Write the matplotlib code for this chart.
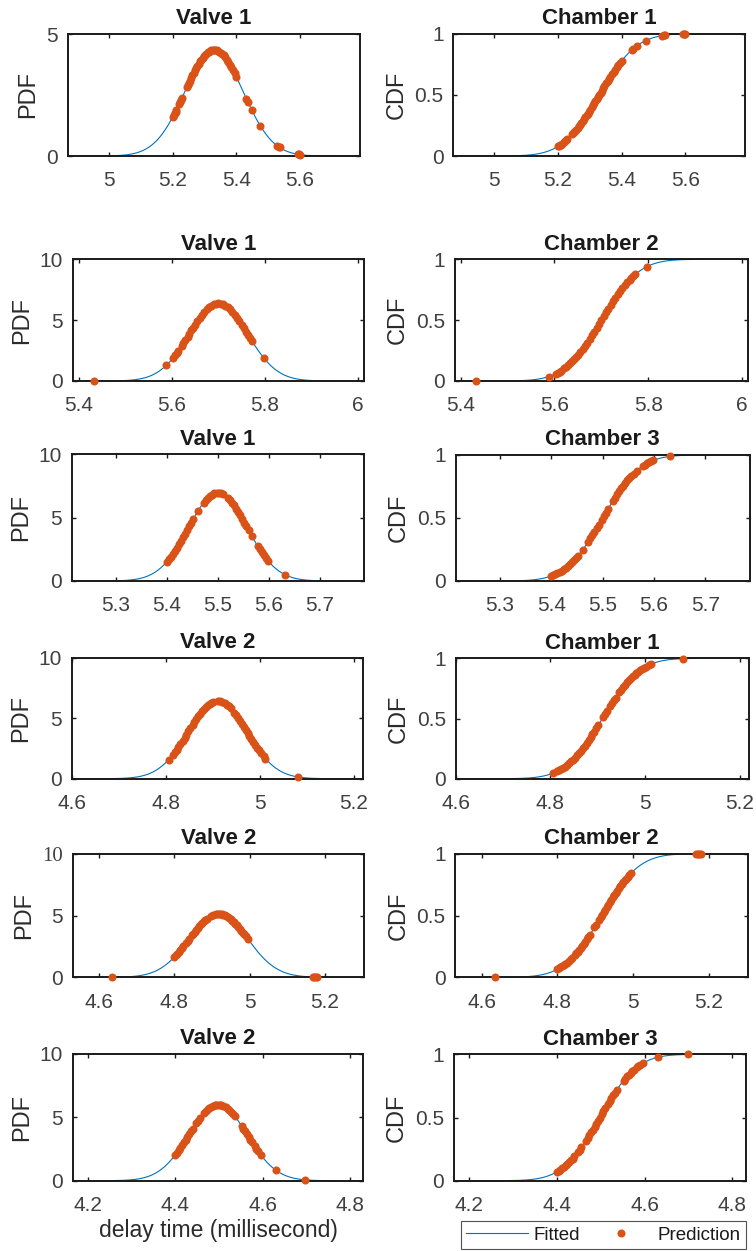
import numpy as np
import matplotlib
matplotlib.use('Agg')
import matplotlib.pyplot as plt
from matplotlib.lines import Line2D
from matplotlib.ticker import FuncFormatter

plt.rcParams['font.family'] = ['Liberation Sans', 'DejaVu Sans']

# ---------------- data ----------------
titles_left = ['Valve 1', 'Valve 1', 'Valve 1', 'Valve 2', 'Valve 2', 'Valve 2']
titles_right = ['Chamber 1', 'Chamber 2', 'Chamber 3', 'Chamber 1', 'Chamber 2', 'Chamber 3']

# fitted normal parameters (delay time, millisecond)
mu = [5.330, 5.700, 5.500, 4.910, 4.917, 4.498]
sigma = [0.0918, 0.0625, 0.0572, 0.0620, 0.0775, 0.0665]

xticks = [[5, 5.2, 5.4, 5.6], [5.4, 5.6, 5.8, 6], [5.3, 5.4, 5.5, 5.6, 5.7],
          [4.6, 4.8, 5, 5.2], [4.6, 4.8, 5, 5.2], [4.2, 4.4, 4.6, 4.8]]
pdf_yticks = [[0, 5], [0, 5, 10], [0, 5, 10], [0, 5, 10], [0, 5, 10], [0, 5, 10]]
cdf_yticks = [0, 0.5, 1]

pred_r1 = [5.200, 5.203, 5.206, 5.209, 5.212, 5.220, 5.223, 5.226, 5.229, 5.245,
           5.248, 5.251, 5.254, 5.258, 5.262, 5.266, 5.270, 5.274, 5.278, 5.282,
           5.286, 5.290, 5.294, 5.298, 5.302, 5.306, 5.310, 5.314, 5.318, 5.322,
           5.326, 5.330, 5.334, 5.338, 5.342, 5.346, 5.352, 5.356, 5.360, 5.365,
           5.370, 5.375, 5.380, 5.385, 5.390, 5.395, 5.400, 5.432, 5.436, 5.448,
           5.476, 5.528, 5.533, 5.536, 5.594, 5.597, 5.600]
pred_r2 = [5.433, 5.588, 5.603, 5.607, 5.611, 5.614, 5.621, 5.625, 5.629, 5.634,
           5.638, 5.642, 5.646, 5.650, 5.655, 5.660, 5.665, 5.670, 5.675, 5.680,
           5.685, 5.690, 5.695, 5.700, 5.705, 5.710, 5.715, 5.720, 5.725, 5.730,
           5.735, 5.740, 5.745, 5.750, 5.755, 5.760, 5.764, 5.768, 5.772, 5.797]
pred_r3 = [5.400, 5.404, 5.408, 5.412, 5.416, 5.420, 5.424, 5.428, 5.432, 5.436,
           5.440, 5.444, 5.448, 5.452, 5.461, 5.472, 5.476, 5.480, 5.484, 5.488,
           5.492, 5.498, 5.502, 5.506, 5.510, 5.520, 5.524, 5.528, 5.532, 5.536,
           5.540, 5.544, 5.548, 5.552, 5.556, 5.560, 5.566, 5.578, 5.582, 5.586,
           5.590, 5.594, 5.598, 5.631]
pred_r4 = [4.806, 4.815, 4.819, 4.823, 4.827, 4.831, 4.836, 4.840, 4.844, 4.848,
           4.852, 4.857, 4.861, 4.865, 4.869, 4.873, 4.877, 4.881, 4.885, 4.889,
           4.893, 4.897, 4.901, 4.912, 4.916, 4.920, 4.926, 4.930, 4.934, 4.938,
           4.946, 4.950, 4.954, 4.958, 4.962, 4.966, 4.970, 4.974, 4.978, 4.982,
           4.986, 4.990, 4.994, 4.998, 5.002, 5.008, 5.012, 5.081]
pred_r5 = [4.635, 4.800, 4.804, 4.808, 4.812, 4.816, 4.820, 4.824, 4.831, 4.835,
           4.839, 4.846, 4.850, 4.854, 4.858, 4.862, 4.866, 4.870, 4.874, 4.878,
           4.882, 4.886, 4.898, 4.902, 4.910, 4.914, 4.918, 4.922, 4.926, 4.930,
           4.934, 4.938, 4.942, 4.946, 4.950, 4.954, 4.958, 4.962, 4.966, 4.970,
           4.974, 4.978, 4.982, 4.986, 4.990, 4.995, 5.168, 5.172, 5.176, 5.180]
pred_r6 = [4.400, 4.404, 4.408, 4.412, 4.416, 4.420, 4.424, 4.428, 4.432, 4.436,
           4.440, 4.448, 4.452, 4.456, 4.466, 4.470, 4.474, 4.478, 4.482, 4.486,
           4.490, 4.494, 4.498, 4.502, 4.506, 4.510, 4.516, 4.520, 4.524, 4.528,
           4.532, 4.536, 4.552, 4.556, 4.560, 4.564, 4.568, 4.572, 4.576, 4.582,
           4.586, 4.590, 4.596, 4.630, 4.698]
predictions = [pred_r1, pred_r2, pred_r3, pred_r4, pred_r5, pred_r6]

# ---------------- layout (pixels: left, top, right, bottom) ----------------
W, H = 756, 1251
left_boxes = [(68, 34, 360, 156), (72.7, 259.3, 364, 381), (71.7, 454.3, 364, 581),
              (71.7, 657.7, 363.3, 778.7), (72.7, 853.7, 364, 977.3), (72.7, 1053.7, 363.3, 1180.7)]
right_boxes = [(453.3, 33.7, 745.3, 156), (454.7, 259.3, 748, 381), (455.7, 455, 749.7, 581),
               (455.7, 658.3, 749, 778.7), (455.3, 853.7, 748, 977.3), (454, 1054.3, 745.7, 1180.7)]

BLUE = '#0072BD'
ORANGE = '#D95319'
TICKC = '#404040'
LABC = '#2b2b2b'
MS = 5.8
fmt = FuncFormatter(lambda v, p: '%g' % v)


def npdf(x, m, s):
    return np.exp(-0.5 * ((x - m) / s) ** 2) / (s * np.sqrt(2 * np.pi))


def ncdf(x, m, s):
    from math import erf
    x = np.atleast_1d(x)
    return np.array([0.5 * (1 + erf((v - m) / (s * np.sqrt(2)))) for v in x])


def add_axes(fig, box):
    l, t, r, b = box
    return fig.add_axes([l / W, 1 - b / H, (r - l) / W, (b - t) / H])


def style(ax):
    for sp in ax.spines.values():
        sp.set_linewidth(1.4)
        sp.set_color('#1a1a1a')
    ax.tick_params(direction='in', length=3, width=1.0, top=True, right=True,
                   labelsize=15, labelcolor=TICKC, color='#1a1a1a')
    ax.tick_params(axis='x', pad=11)
    ax.tick_params(axis='y', pad=7)
    ax.xaxis.set_major_formatter(fmt)
    ax.yaxis.set_major_formatter(fmt)


fig = plt.figure(figsize=(W / 100, H / 100), dpi=100)

for i in range(6):
    m, s = mu[i], sigma[i]
    lo, hi = m - 5 * s, m + 5 * s
    xs = np.linspace(lo, hi, 400)
    px = np.array(predictions[i])

    ax = add_axes(fig, left_boxes[i])
    ax.plot(xs, npdf(xs, m, s), color=BLUE, lw=0.8, zorder=2)
    ax.plot(px, npdf(px, m, s), 'o', color=ORANGE, ms=MS, mec='none', clip_on=False, zorder=4)
    ax.set_xlim(lo, hi)
    ax.set_ylim(0, pdf_yticks[i][-1])
    ax.set_xticks(xticks[i])
    ax.set_yticks(pdf_yticks[i])
    style(ax)
    ax.set_title(titles_left[i], fontsize=16, fontweight='bold', color='#1a1a1a', pad=7)
    ax.set_ylabel('PDF', fontsize=17, color=LABC, labelpad=5)
    if i == 4:
        for lab in ax.get_yticklabels():
            if lab.get_text() == '10':
                lab.set_fontfamily('Liberation Serif')
    if i == 5:
        ax.set_xlabel('delay time (millisecond)', fontsize=16.5, color=LABC, labelpad=3)

    ax2 = add_axes(fig, right_boxes[i])
    ax2.plot(xs, ncdf(xs, m, s), color=BLUE, lw=0.8, zorder=2)
    ax2.plot(px, ncdf(px, m, s), 'o', color=ORANGE, ms=MS, mec='none', clip_on=False, zorder=4)
    ax2.set_xlim(lo, hi)
    ax2.set_ylim(0, 1)
    ax2.set_xticks(xticks[i])
    ax2.set_yticks(cdf_yticks)
    style(ax2)
    ax2.set_title(titles_right[i], fontsize=16, fontweight='bold', color='#1a1a1a', pad=7)
    ax2.set_ylabel('CDF', fontsize=17, color=LABC, labelpad=5)

handles = [Line2D([], [], color=BLUE, lw=0.8),
           Line2D([], [], color=ORANGE, marker='o', ls='none', ms=MS, mec='none')]
lx0, ly0, lx1, ly1 = 460.7, 1216.7, 746.3, 1249.3
leg = fig.legend(handles, ['Fitted', 'Prediction'], loc='lower left',
                 bbox_to_anchor=(lx0 / W, 1 - ly1 / H, (lx1 - lx0) / W, (ly1 - ly0) / H),
                 mode='expand', ncol=2, fontsize=13.5, frameon=True, fancybox=False,
                 handlelength=3.3, handletextpad=0.3, borderaxespad=0, borderpad=0.3,
                 columnspacing=1.0)
leg.get_frame().set_edgecolor('#262626')
leg.get_frame().set_linewidth(0.8)
for t in leg.get_texts():
    t.set_color('#1a1a1a')

fig.savefig('out.png', dpi=100)
